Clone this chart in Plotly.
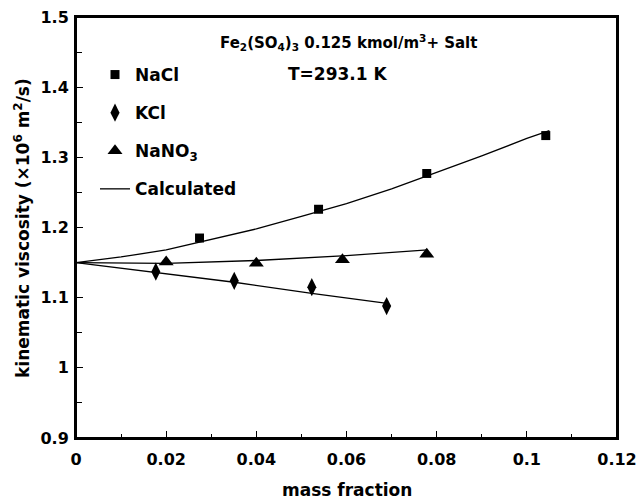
import plotly.graph_objects as go

# Experimental data
nacl_x = [0.0274, 0.0538, 0.0778, 0.1042]
nacl_y = [1.185, 1.226, 1.277, 1.331]
kcl_x = [0.0177, 0.0351, 0.0523, 0.0689]
kcl_y = [1.137, 1.124, 1.115, 1.088]
nano3_x = [0.0200, 0.0400, 0.0591, 0.0778]
nano3_y = [1.151, 1.149, 1.154, 1.162]

# Calculated curves
calc_nacl_x = [0.0, 0.01, 0.02, 0.03, 0.04, 0.05, 0.06, 0.07, 0.08, 0.09, 0.10, 0.105]
calc_nacl_y = [1.150, 1.158, 1.168, 1.183, 1.198, 1.216, 1.234, 1.255, 1.278, 1.302, 1.327, 1.338]
calc_kcl_x = [0.0, 0.0177, 0.0351, 0.0523, 0.069]
calc_kcl_y = [1.150, 1.136, 1.122, 1.106, 1.092]
calc_nano3_x = [0.0, 0.020, 0.040, 0.060, 0.078]
calc_nano3_y = [1.150, 1.149, 1.153, 1.160, 1.168]

x_ticks = [0, 0.02, 0.04, 0.06, 0.08, 0.1, 0.12]
x_labels = ["0", "0.02", "0.04", "0.06", "0.08", "0.1", "0.12"]
y_ticks = [0.9, 1.0, 1.1, 1.2, 1.3, 1.4, 1.5]
y_labels = ["0.9", "1", "1.1", "1.2", "1.3", "1.4", "1.5"]

FONT = "DejaVu Sans"
BOLD = lambda s: "<b>" + s + "</b>"

# plot area in page pixels
L, R, T, B = 76, 617, 17, 438
W, H = R - L, B - T
px = lambda x: (x - L) / W
py = lambda y: (B - y) / H

fig = go.Figure()

fig.add_trace(go.Scatter(x=nacl_x, y=nacl_y, mode="markers", name=BOLD("NaCl"),
                         marker=dict(symbol="square", size=9, color="black"),
                         legendgroup="a"))
fig.add_trace(go.Scatter(x=kcl_x, y=kcl_y, mode="markers", name=BOLD("KCl"),
                         marker=dict(symbol="diamond-tall", size=13, color="black"),
                         legendgroup="b"))
fig.add_trace(go.Scatter(x=nano3_x, y=nano3_y, mode="markers", name=BOLD("NaNO<sub>3</sub>"),
                         marker=dict(symbol="triangle-up", size=13, color="black"),
                         legendgroup="c"))
fig.add_trace(go.Scatter(x=calc_nacl_x, y=calc_nacl_y, mode="lines", name=BOLD("Calculated"),
                         line=dict(color="black", width=1.3), legendgroup="d"))
fig.add_trace(go.Scatter(x=calc_kcl_x, y=calc_kcl_y, mode="lines", showlegend=False,
                         line=dict(color="black", width=1.3), legendgroup="d"))
fig.add_trace(go.Scatter(x=calc_nano3_x, y=calc_nano3_y, mode="lines", showlegend=False,
                         line=dict(color="black", width=1.3), legendgroup="d"))

# header texts
fig.add_annotation(x=px(348), y=py(43), xref="paper", yref="paper",
                   xanchor="center", yanchor="middle",
                   text=BOLD("Fe<sub>2</sub>(SO<sub>4</sub>)<sub>3</sub> 0.125 kmol/m<sup>3</sup>+ Salt"),
                   showarrow=False, font=dict(size=15, color="black", family=FONT))
fig.add_annotation(x=px(286), y=py(74), xref="paper", yref="paper",
                   xanchor="left", yanchor="middle",
                   text=BOLD("T=293.1 K"), showarrow=False,
                   font=dict(size=17, color="black", family=FONT))

# axis titles
fig.add_annotation(x=0.5, y=py(490), xref="paper", yref="paper",
                   xanchor="center", yanchor="middle",
                   text=BOLD("mass fraction"), showarrow=False,
                   font=dict(size=17, color="black", family=FONT))
fig.add_annotation(x=px(22), y=py(228), xref="paper", yref="paper", textangle=-90,
                   xanchor="center", yanchor="middle",
                   text=BOLD("kinematic viscosity (×10<sup>6</sup> m<sup>2</sup>/s)"),
                   showarrow=False, font=dict(size=17, color="black", family=FONT))

# plot frame
fig.add_shape(type="rect", xref="paper", yref="paper", x0=0, y0=0, x1=1, y1=1,
              line=dict(color="black", width=2), layer="above")

axis_common = dict(
    showgrid=False, zeroline=False, showline=True, linecolor="black", linewidth=2,
    mirror=True, ticks="inside", tickcolor="black", tickwidth=1.2, ticklen=7,
    tickfont=dict(size=16, color="black", family=FONT), automargin=False,
    ticklabeloverflow="allow",
)

fig.update_xaxes(range=[0, 0.12], tickvals=x_ticks, ticktext=[BOLD(s) for s in x_labels],
                 minor=dict(dtick=0.01, ticks="inside", ticklen=4, tickcolor="black", tickwidth=1.2),
                 ticklabelstandoff=6, **axis_common)
fig.update_yaxes(range=[0.9, 1.5], tickvals=y_ticks, ticktext=[BOLD(s) for s in y_labels],
                 minor=dict(dtick=0.05, ticks="inside", ticklen=6, tickcolor="black", tickwidth=1.2),
                 ticklabelstandoff=2, **axis_common)

fig.update_layout(
    width=638, height=502,
    margin=dict(l=L, r=638 - R, t=T, b=502 - B),
    plot_bgcolor="white", paper_bgcolor="white",
    font=dict(family=FONT, color="black"),
    legend=dict(x=px(95), y=py(57), xanchor="left", yanchor="top",
                bgcolor="rgba(0,0,0,0)", font=dict(size=17, color="black", family=FONT),
                traceorder="grouped", tracegroupgap=13, itemwidth=30),
)

fig.write_html("out.html", config={"displayModeBar": False},
               post_script="document.body.style.margin='0';document.body.style.overflow='hidden';")
